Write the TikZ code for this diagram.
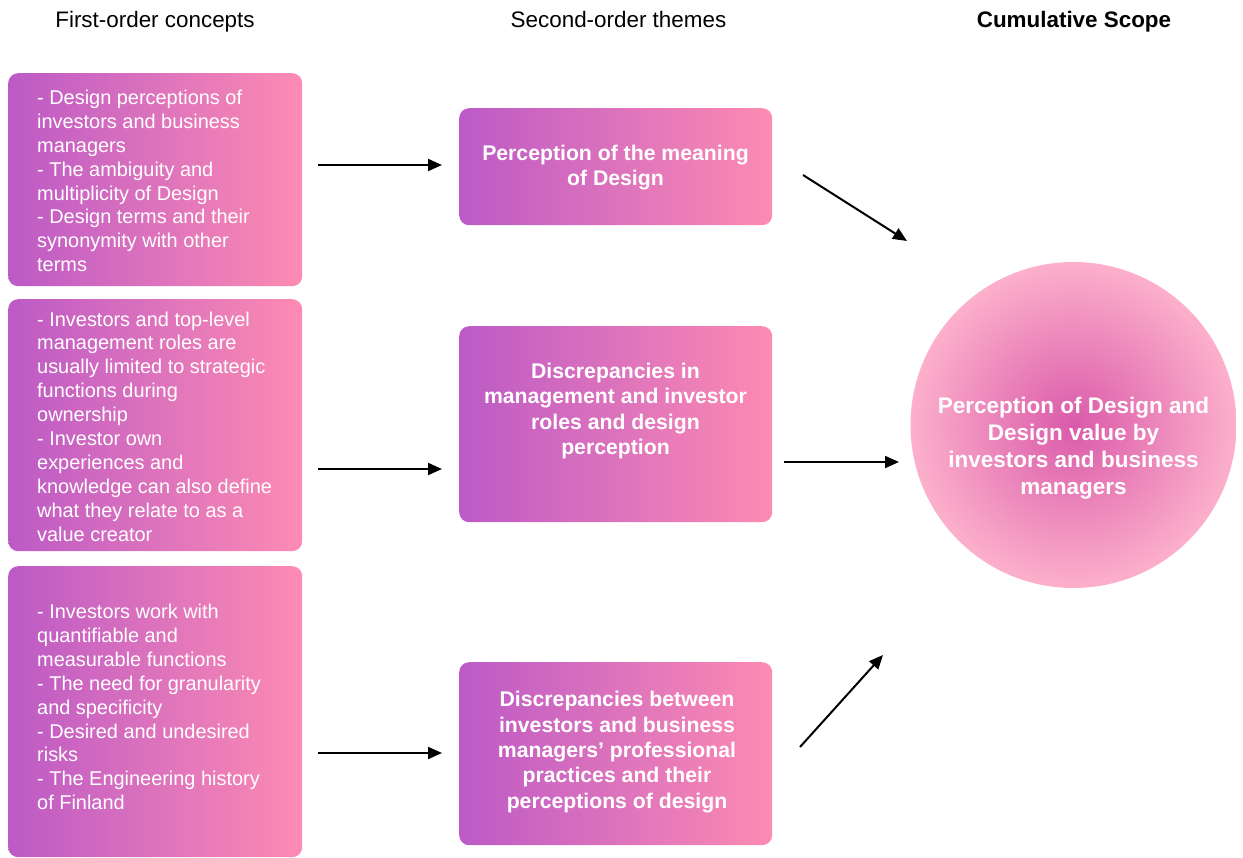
\documentclass[tikz,border=0pt]{standalone}
\usepackage{fontspec}
\setmainfont{Liberation Sans}
\usetikzlibrary{arrows.meta}
\definecolor{boxL}{RGB}{188,90,198}
\definecolor{boxR}{RGB}{253,139,178}
\definecolor{circIn}{RGB}{218,90,170}
\definecolor{circOut}{RGB}{252,176,203}
\tikzset{
  conceptbox/.style={rectangle, rounded corners=10bp, left color=boxL, right color=boxR,
    draw=none, inner sep=0pt, anchor=north west},
  concepttext/.style={anchor=west, align=left, text=white, inner sep=0pt,
    font=\fontsize{20}{24}\selectfont},
  themetext/.style={anchor=center, align=center, text=white, inner sep=0pt,
    font=\bfseries\fontsize{21.3}{25.5}\selectfont},
  header/.style={anchor=base, inner sep=0pt, font=\fontsize{22.5}{26}\selectfont},
  arr/.style={line width=2bp, -{Triangle[length=14bp,width=12bp]}},
}
\begin{document}
\begin{tikzpicture}[x=1bp,y=-1bp]
\useasboundingbox (0,0) rectangle (1243,858);

% column headers, sharing one baseline
\node[header] (h1) at (155,27.5) {First-order concepts};
\node[header] (h2) at (618.5,27.5) {Second-order themes};
\node[header, font=\bfseries\fontsize{22.5}{26}\selectfont] (h3) at (1074,27.5) {Cumulative Scope};

% first-order concept boxes
\node[conceptbox, minimum width=294bp, minimum height=213bp] (lb1) at (8,73) {};
\node[conceptbox, minimum width=294bp, minimum height=252bp] (lb2) at (8,299) {};
\node[conceptbox, minimum width=294bp, minimum height=291bp] (lb3) at (8,566) {};

\node[concepttext] (lt1) at (37,181) {- Design perceptions of\\investors and business\\managers\\- The ambiguity and\\multiplicity of Design\\- Design terms and their\\synonymity with other\\terms};
\node[concepttext] (lt2) at (37,426.5) {- Investors and top-level\\management roles are\\usually limited to strategic\\functions during\\ownership\\- Investor own\\experiences and\\knowledge can also define\\what they relate to as a\\value creator};
\node[concepttext] (lt3) at (37,707) {- Investors work with\\quantifiable and\\measurable functions\\- The need for granularity\\and specificity\\- Desired and undesired\\risks\\- The Engineering history\\of Finland};

% second-order theme boxes
\node[conceptbox, minimum width=313bp, minimum height=117bp] (mb1) at (459,108) {};
\node[conceptbox, minimum width=313bp, minimum height=196bp] (mb2) at (459,326) {};
\node[conceptbox, minimum width=313bp, minimum height=183bp] (mb3) at (459,662) {};

\node[themetext] (mt1) at (615.5,167.5) {Perception of the meaning\\of Design};
\node[themetext] (mt2) at (615.5,411) {Discrepancies in\\management and investor\\roles and design\\perception};
\node[themetext] (mt3) at (617,752) {Discrepancies between\\investors and business\\managers’ professional\\practices and their\\perceptions of design};

% cumulative scope
\node[circle, minimum size=326bp, inner sep=0pt, draw=none,
      inner color=circIn, outer color=circOut] (sc) at (1073.5,425) {};
\node[anchor=center, align=center, text=white, inner sep=0pt,
      font=\bfseries\fontsize{22.6}{27}\selectfont] (st) at (1073.5,448.5)
  {Perception of Design and\\Design value by\\investors and business\\managers};

% connectors
\coordinate (t1) at (318,165);  \coordinate (e1) at (442,165);
\coordinate (t2) at (318,469);  \coordinate (e2) at (442,469);
\coordinate (t3) at (318,753);  \coordinate (e3) at (442,753);
\coordinate (t4) at (803,175);  \coordinate (e4) at (907,241);
\coordinate (t5) at (784,462);  \coordinate (e5) at (899,462);
\coordinate (t6) at (800,747);  \coordinate (e6) at (883,655);
\draw[arr] (t1) -- (e1);
\draw[arr] (t2) -- (e2);
\draw[arr] (t3) -- (e3);
\draw[arr] (t4) -- (e4);
\draw[arr] (t5) -- (e5);
\draw[arr] (t6) -- (e6);
\end{tikzpicture}
\end{document}
